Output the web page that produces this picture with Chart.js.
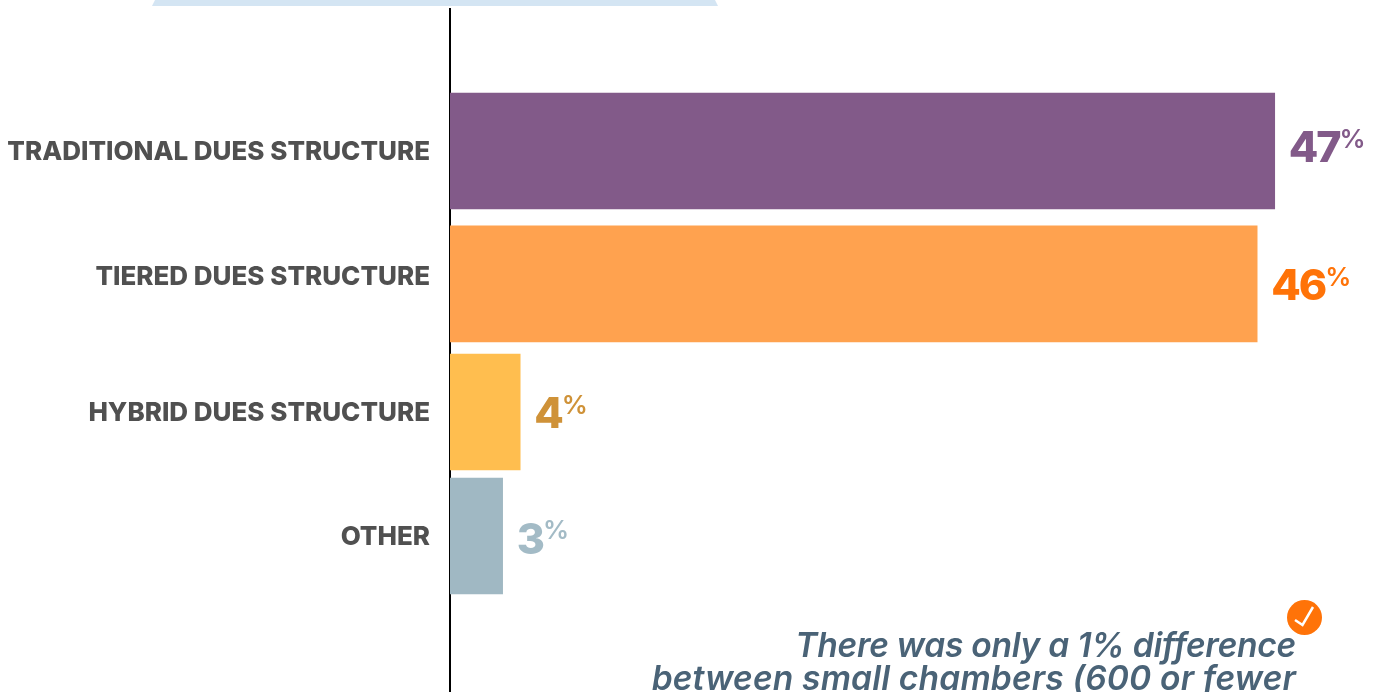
<!DOCTYPE html>
<html>
<head>
<meta charset="utf-8">
<title>Dues structure</title>
<script src="https://cdn.jsdelivr.net/npm/chart.js@4"></script>
<style>
    html, body { margin: 0; padding: 0; background: #fff; overflow: hidden; }
    .wrap { position: relative; width: 1380px; height: 692px; overflow: hidden; }
    .banner {
        position: absolute; left: 152px; top: 0; width: 566px; height: 6px;
        background: #d4e5f3;
        clip-path: polygon(3px 0, 563px 0, 100% 100%, 0 100%);
    }
    .note {
        position: absolute; right: 84px; top: 628px; width: 760px;
        font: italic 600 33.6px/33px Inter, sans-serif;
        color: #4a6377; text-align: right; white-space: nowrap;
    }
    .note .first { letter-spacing: -0.27px; }
    .note .second { letter-spacing: 0.17px; }
    .check { position: absolute; left: 1287px; top: 600px; }
</style>
</head>
<body>
<div class="wrap">
    <canvas id="duesChart" width="1380" height="692"></canvas>
    <div class="banner"></div>
    <svg class="check" width="35" height="35" viewBox="0 0 35 35">
        <circle cx="17.5" cy="17.5" r="17.5" fill="#ff7308"/>
        <path d="M8 20 L15.5 25 L26 7" fill="none" stroke="#fff" stroke-width="2.5"/>
    </svg>
    <div class="note"><span class="first">There was only a 1% difference</span><br><span class="second">between small chambers (600 or fewer</span></div>
</div>
<script>
const categories = ['TRADITIONAL DUES STRUCTURE', 'TIERED DUES STRUCTURE', 'HYBRID DUES STRUCTURE', 'OTHER'];
const shares = [47, 46, 4, 3];
const barColors = ['#825a89', '#ffa24f', '#ffbe4f', '#a0b8c3'];
const labelColors = ['#825a89', '#ff7308', '#cf9238', '#a3bbc6'];

// Rows are not evenly spaced, so the y axis is linear and counted in rows
const barRows = [0, 1.036, 2.034, 3];
const tickRows = [0.008, 0.982, 2.042, 3.006];
const valueRows = [-0.035, 1.044, 2.038, 3.016];

// Big number with a small percent sign raised next to it
const valueLabels = {
    id: 'valueLabels',
    afterDatasetsDraw(chart) {
        const ctx = chart.ctx;
        const yScale = chart.scales.y;
        chart.getDatasetMeta(0).data.forEach((bar, i) => {
            const text = String(shares[i]);
            const x = bar.x + 14;
            const y = yScale.getPixelForValue(valueRows[i]);
            ctx.save();
            ctx.fillStyle = labelColors[i];
            ctx.textAlign = 'left';
            ctx.textBaseline = 'alphabetic';
            ctx.font = '800 43px Inter, sans-serif';
            ctx.letterSpacing = '-2px';
            ctx.fillText(text, x, y + 15.5);
            const w = ctx.measureText(text).width;
            ctx.letterSpacing = '0px';
            ctx.font = '600 26px Inter, sans-serif';
            ctx.fillText('%', x + w, y + 1);
            ctx.restore();
        });
    }
};

document.addEventListener('DOMContentLoaded', function() {
    new Chart(document.getElementById('duesChart'), {
        type: 'bar',
        data: {
            datasets: [{
                data: shares.map((v, i) => ({ x: v, y: barRows[i] })),
                backgroundColor: barColors,
                borderWidth: 0,
                barThickness: 116
            }]
        },
        options: {
            indexAxis: 'y',
            responsive: false,
            animation: false,
            layout: { padding: { top: 9 } },
            plugins: {
                legend: { display: false },
                tooltip: { enabled: false }
            },
            scales: {
                x: { type: 'linear', display: false, min: 0, max: 53 },
                y: {
                    type: 'linear',
                    reverse: true,
                    offset: false,
                    min: -1.1065,
                    max: 4.2157,
                    afterFit: scale => {
                        // axis line runs the full height, labels may not push it in
                        scale.width = 450;
                        scale.paddingTop = 0;
                        scale.paddingBottom = 0;
                    },
                    afterBuildTicks: scale => {
                        scale.ticks = tickRows.map(v => ({ value: v }));
                    },
                    grid: { display: false, drawTicks: false, offset: false },
                    border: { display: true, color: '#000', width: 2 },
                    ticks: {
                        autoSkip: false,
                        padding: 20,
                        color: '#505050',
                        font: { family: 'Inter, sans-serif', size: 26, weight: '800' },
                        callback: value => categories[tickRows.indexOf(value)]
                    }
                }
            }
        },
        plugins: [valueLabels]
    });
});
</script>
</body>
</html>
